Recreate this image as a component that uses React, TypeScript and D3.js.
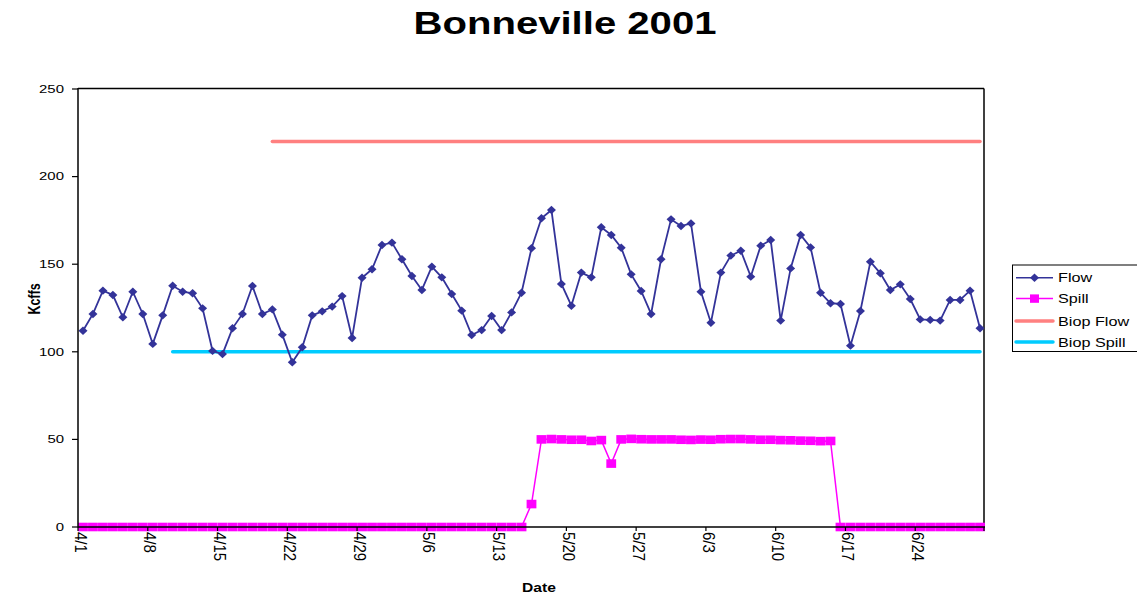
import React from "react";
import * as d3 from "d3";

const dateLabels: string[] = d3
  .timeDay.range(new Date(2001, 3, 1), new Date(2001, 6, 1))
  .map((d) => `${d.getMonth() + 1}/${d.getDate()}`);

const flow: number[] = [
  112.0, 121.6, 134.9, 132.4, 119.7, 134.3, 121.6, 104.5, 120.8, 137.7,
  134.3, 133.4, 124.8, 100.5, 98.7, 113.4, 121.6, 137.6, 121.6, 124.2,
  109.8, 94.0, 102.6, 120.8, 123.1, 125.8, 131.8, 107.9, 142.3, 147.1,
  161.0, 162.3, 152.8, 143.3, 135.3, 148.6, 142.5, 133.0, 123.5, 109.6,
  112.4, 120.4, 112.4, 122.5, 133.7, 159.1, 176.2, 180.9, 138.7, 126.3,
  145.2, 142.5, 171.1, 166.7, 159.4, 144.2, 134.7, 121.6, 152.8, 175.6,
  171.8, 173.3, 134.3, 116.6, 145.2, 154.9, 157.7, 142.9, 160.6, 163.8,
  117.8, 147.6, 166.7, 159.6, 133.7, 127.7, 127.3, 103.5, 123.3, 151.4,
  144.8, 135.3, 138.5, 130.1, 118.5, 118.2, 117.8, 129.6, 129.6, 134.9,
  113.4,
];

const spill: number[] = [
  0, 0, 0, 0, 0, 0, 0, 0, 0, 0,
  0, 0, 0, 0, 0, 0, 0, 0, 0, 0,
  0, 0, 0, 0, 0, 0, 0, 0, 0, 0,
  0, 0, 0, 0, 0, 0, 0, 0, 0, 0,
  0, 0, 0, 0, 0, 13.1, 50.0, 50.2, 50.0, 49.8,
  49.8, 49.1, 49.6, 36.2, 50.0, 50.3, 50.1, 50.0, 50.0, 50.0,
  49.8, 49.7, 49.9, 49.8, 50.1, 50.2, 50.2, 50.0, 49.8, 49.8,
  49.6, 49.5, 49.3, 49.2, 49.0, 49.1, 0, 0, 0, 0,
  0, 0, 0, 0, 0, 0, 0, 0, 0, 0,
  0,
];

const biopFlow = [
  { date: "4/20", value: 220 },
  { date: "6/30", value: 220 },
];
const biopSpill = [
  { date: "4/10", value: 100 },
  { date: "6/30", value: 100 },
];

const xTickLabels = ["4/1", "4/8", "4/15", "4/22", "4/29", "5/6", "5/13", "5/20", "5/27", "6/3", "6/10", "6/17", "6/24"];
const yTicks = [0, 50, 100, 150, 200, 250];

const legendItems = [
  { name: "Flow", color: "#333399", kind: "diamond" },
  { name: "Spill", color: "#FF00FF", kind: "square" },
  { name: "Biop Flow", color: "#FF8080", kind: "thick" },
  { name: "Biop Spill", color: "#00CCFF", kind: "thick" },
];

const FONT = "'Liberation Sans', Arial, Helvetica, sans-serif";

export default function App() {
  const W = 1137;
  const H = 596;
  const left = 78;
  const right = 985;
  const top = 89;
  const bottom = 527;

  const x = d3.scaleBand<string>().domain(dateLabels).range([left, right]).padding(0);
  const bw = x.bandwidth();
  const cx = (d: string) => (x(d) as number) + bw / 2;
  const y = d3.scaleLinear().domain([0, 250]).range([bottom, top]);

  const lineIdx = d3
    .line<number>()
    .x((_, i) => cx(dateLabels[i]))
    .y((v) => y(v));
  const lineObj = d3
    .line<{ date: string; value: number }>()
    .x((d) => cx(d.date))
    .y((d) => y(d.value));

  const diamond = (px: number, py: number, rx = 4.5, ry = 4.2) =>
    `M${px},${py - ry}L${px + rx},${py}L${px},${py + ry}L${px - rx},${py}Z`;

  return (
    <svg width={W} height={H} style={{ display: "block", position: "absolute", left: 0, top: 0 }} fontFamily={FONT}>
      <rect x={0} y={0} width={W} height={H} fill="#fff" />
      {/* Title */}
      <text
        x={565}
        y={34}
        textAnchor="middle"
        fontSize={31}
        fontWeight="bold"
        textLength={303}
        lengthAdjust="spacingAndGlyphs"
        fill="#000"
      >
        Bonneville 2001
      </text>

      {/* plot border (top/right) */}
      <line x1={left} x2={right - 1} y1={top - 0.5} y2={top - 0.5} stroke="#000" strokeWidth={1.5} />
      <line x1={right - 1} x2={right - 1} y1={top - 0.5} y2={bottom} stroke="#000" strokeWidth={1.5} />

      {/* Biop lines */}
      <path d={lineObj(biopFlow) || ""} fill="none" stroke="#FF8080" strokeWidth={3.5} strokeLinecap="round" />
      <path d={lineObj(biopSpill) || ""} fill="none" stroke="#00CCFF" strokeWidth={3.5} strokeLinecap="round" />

      {/* Spill */}
      <path d={lineIdx(spill) || ""} fill="none" stroke="#FF00FF" strokeWidth={1.5} />
      {spill.map((v, i) => (
        <rect key={"s" + i} x={cx(dateLabels[i]) - 4.9} y={y(v) - 4.3} width={9.8} height={8.6} fill="#FF00FF" />
      ))}

      {/* Flow */}
      <path d={lineIdx(flow) || ""} fill="none" stroke="#333399" strokeWidth={1.8} />
      {flow.map((v, i) => (
        <path key={"f" + i} d={diamond(cx(dateLabels[i]), y(v))} fill="#333399" />
      ))}

      {/* Axes */}
      <line x1={left} x2={left} y1={top - 1} y2={bottom + 0.5} stroke="#000" strokeWidth={1.5} />
      <line x1={left} x2={right} y1={bottom} y2={bottom} stroke="#000" strokeWidth={1.5} />
      {yTicks.map((t) => (
        <g key={"yt" + t}>
          <line x1={left - 6} x2={left} y1={y(t)} y2={y(t)} stroke="#000" strokeWidth={1.2} />
          <text
            transform={`translate(64,${y(t)}) scale(1.3,1)`}
            textAnchor="end"
            dominantBaseline="central"
            fontSize={11.5}
            fill="#000"
          >
            {t}
          </text>
        </g>
      ))}
      {xTickLabels.map((lbl) => {
        const tx = x(lbl) as number;
        return (
          <g key={"xt" + lbl}>
            <line x1={tx} x2={tx} y1={bottom} y2={bottom + 4} stroke="#000" strokeWidth={1.2} />
            <text
              transform={`translate(${tx + 3},${bottom + 5}) rotate(90) scale(1,1.15)`}
              textAnchor="start"
              dominantBaseline="central"
              fontSize={15}
              fill="#000"
            >
              {lbl}
            </text>
          </g>
        );
      })}
      <line x1={right - 1} x2={right - 1} y1={bottom} y2={bottom + 4} stroke="#000" strokeWidth={1.2} />

      {/* Axis titles */}
      <text
        transform={`translate(539,592) scale(1.25,1)`}
        textAnchor="middle"
        fontSize={12.5}
        fontWeight="bold"
        fill="#000"
      >
        Date
      </text>
      <text
        transform={`translate(34,299) rotate(-90) scale(1,1.25)`}
        textAnchor="middle"
        dominantBaseline="central"
        fontSize={12.5}
        fontWeight="bold"
        fill="#000"
      >
        Kcffs
      </text>

      {/* Legend */}
      <rect x={1012.5} y={265} width={140} height={86.5} fill="#fff" stroke="#000" strokeWidth={1} />
      {legendItems.map((it, i) => {
        const ly = [277.7, 298.6, 321, 342][i];
        return (
          <g key={"lg" + it.name}>
            <line
              x1={1016}
              x2={1053}
              y1={ly}
              y2={ly}
              stroke={it.color}
              strokeWidth={it.kind === "thick" ? 3.5 : 1.5}
              strokeLinecap={it.kind === "thick" ? "round" : "butt"}
            />
            {it.kind === "diamond" && <path d={diamond(1034.5, ly)} fill={it.color} />}
            {it.kind === "square" && <rect x={1030} y={ly - 4.2} width={9} height={8.4} fill={it.color} />}
            <text
              transform={`translate(1058,${ly}) scale(1.2,1)`}
              dominantBaseline="central"
              fontSize={13.5}
              fill="#000"
            >
              {it.name}
            </text>
          </g>
        );
      })}
    </svg>
  );
}
